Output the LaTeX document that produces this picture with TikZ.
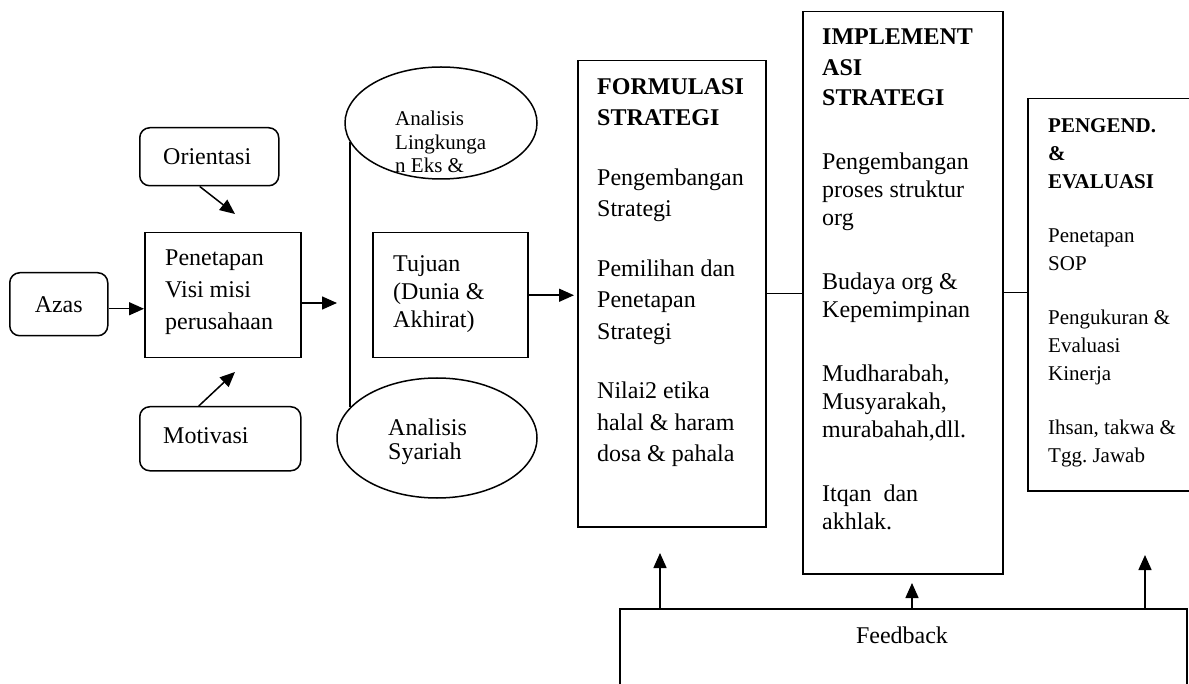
\documentclass[tikz,border=0pt]{standalone}
\usepackage{fontspec}
\setmainfont{Liberation Serif}
\usetikzlibrary{arrows.meta,shapes.geometric}
\frenchspacing
\begin{document}
\begin{tikzpicture}[x=1pt,y=-1pt,
  box/.style={draw,line width=1.5pt,inner sep=0pt,anchor=north west},
  rbox/.style={box,rounded corners=10pt},
  oval/.style={draw,ellipse,line width=1.5pt,inner sep=0pt},
  txt/.style={inner sep=0pt,anchor=north west,align=left},
  arr/.style={line width=1.5pt,-{Triangle[length=15pt,width=13pt]}},
  ln/.style={line width=1.5pt},
  fa/.style={font=\fontsize{24}{28}\selectfont},
  fb/.style={font=\fontsize{21}{23.5}\selectfont},
]
\useasboundingbox (0,0) rectangle (1189,684);
\clip (0,0) rectangle (1189,684);

% left column
\node[rbox, minimum width=98pt, minimum height=63pt] (azas) at (9,272) {};
\node[fa, inner sep=0pt] (azast) at (azas.center) {Azas};
\node[rbox, minimum width=139pt, minimum height=58pt] (ori) at (139,127) {};
\node[txt, fa, anchor=west] (orit) at (163,157) {Orientasi};
\node[box, minimum width=156pt, minimum height=125pt] (pen) at (144,232) {};
\node[txt, font=\fontsize{24}{32}\selectfont] (pent) at (165,250) {Penetapan\\Visi misi\\perusahaan};
\node[rbox, minimum width=161pt, minimum height=64pt] (mot) at (139,406) {};
\node[txt, fa, anchor=west] (mott) at (163,436) {Motivasi};

% analysis column
\node[oval, minimum width=192pt, minimum height=112pt] (ell1) at (441,123) {};
\node[txt, fb] (ell1t) at (395,111) {Analisis\\Lingkunga\\n Eks \&};
\node[box, minimum width=155pt, minimum height=125pt] (tuj) at (372,232) {};
\node[txt, fa] (tujt) at (393,255) {Tujuan\\(Dunia \&\\Akhirat)};
\node[oval, minimum width=200pt, minimum height=120pt] (ell2) at (437,438) {};
\node[txt, font=\fontsize{24}{24}\selectfont] (ell2t) at (388,419) {Analisis\\Syariah};

% strategy boxes
\node[box, minimum width=188pt, minimum height=466pt] (form) at (577,60) {};
\node[txt, font=\fontsize{24}{31.5}\selectfont] (formt) at (597,78)
  {\textbf{FORMULASI}\\\textbf{STRATEGI}\\[28pt]Pengembangan\\Strategi\\[28pt]Pemilihan dan\\Penetapan\\Strategi\\[28pt]Nilai2 etika\\halal \& haram\\dosa \& pahala};
\node[box, minimum width=200pt, minimum height=562pt] (imp) at (802,11) {};
\node[txt, fa] (impt) at (822,29)
  {\textbf{IMPLEMENT}\\[2.5pt]\textbf{ASI}\\[2.5pt]\textbf{STRATEGI}\\[36pt]Pengembangan\\proses struktur\\org\\[36pt]Budaya org \&\\Kepemimpinan\\[36pt]Mudharabah,\\Musyarakah,\\murabahah,dll.\\[36pt]Itqan\ \ dan\\akhlak.};
\node[box, minimum width=170pt, minimum height=392pt] (peng) at (1027,98) {};
\node[txt, font=\fontsize{21}{28}\selectfont] (pengt) at (1048,118)
  {\textbf{PENGEND.}\\\textbf{\&}\\\textbf{EVALUASI}\\[26pt]Penetapan\\SOP\\[26pt]Pengukuran \&\\Evaluasi\\Kinerja\\[26pt]Ihsan, takwa \&\\Tgg. Jawab};

% feedback
\node[box, minimum width=567pt, minimum height=120pt] (fbk) at (619,608) {};
\node[fa, inner sep=0pt] (fbkt) at (902,635) {Feedback};

% connectors
\draw[arr] ([yshift=-4.5pt]azas.east) -- ([yshift=-4.5pt]azas.east -| pen.west);
\coordinate (p1) at (337,303);
\draw[arr] (pen.east |- p1) -- (p1);
\coordinate (o1) at (235,214);
\draw[arr] ([xshift=-9.5pt]ori.south) -- (o1);
\coordinate (m1) at (235,372);
\draw[arr] ([xshift=-21.5pt]mot.north) -- (m1);
\draw[ln] (ell1.192) -- (ell1.192 |- ell2.160);
\draw[arr, shorten >=3pt] (tuj.east) -- (tuj.east -| form.west);
\draw[ln] (form.east) -- (form.east -| imp.west);
\draw[ln] (imp.east) -- (imp.east -| peng.west);
\coordinate (f1) at (660,553);
\coordinate (f2) at (912,583);
\coordinate (f3) at (1145,555);
\draw[arr] (f1 |- fbk.north) -- (f1);
\draw[arr] (f2 |- fbk.north) -- (f2);
\draw[arr] (f3 |- fbk.north) -- (f3);
\end{tikzpicture}
\end{document}
